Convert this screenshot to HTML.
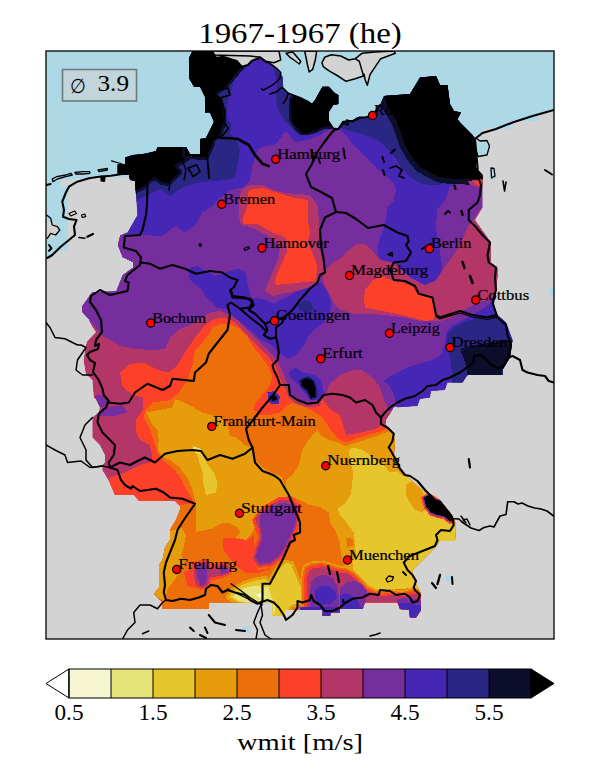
<!DOCTYPE html>
<html><head><meta charset="utf-8"><title>wmit</title>
<style>
html,body{margin:0;padding:0;background:#fff;}
body{width:600px;height:780px;overflow:hidden;font-family:"Liberation Serif",serif;}
svg{display:block;}
text{font-family:"Liberation Serif",serif;fill:#000;}
</style></head><body>
<svg width="600" height="780" viewBox="0 0 600 780">
<defs>
<clipPath id="ax"><rect x="46" y="51" width="508" height="588"/></clipPath>
<clipPath id="mask"><polygon points="117.5,174 117.5,164.5 125,164.5 125,157.5 132.5,155 145,153.7 156,151 157.5,147 186,147 190,154 200,154 200,139 206,138 214,121.7 210,112.5 205,112.5 205,96.7 200,86.7 194,86.7 189,78 189,58 192.5,51 212.5,51 216,58 223,56.7 236.7,61 241.7,66.7 248,65 251.7,61 260,57.5 265,61.7 270,63.3 278.3,70 282.5,76.7 283.3,88.3 288.3,93.3 295,95.8 308.3,101.7 311.7,104 315,100 322.5,86.7 329,86.7 334,92.5 338.3,95 338.3,104 333.3,105 329,111.7 329,121.7 333.3,128.3 338.3,129 343.3,121.7 353.3,120.8 356.7,118.3 360,117.5 365,117.5 375,115 380,105 384,96 410,94 420,77.5 436,76 440,85 447.5,85 450,104 454,111 461,112.5 457.5,119 460,122.5 472.5,135 476,140 476,167.5 482.5,175 482.5,195 482.5,207.5 475,220 491,242.5 491,262.5 497.5,267.5 497.5,277.5 494,305 497.5,315 506,322.5 512.5,340 510,357.5 502.5,370 502.5,375 467.5,375 462.5,382.5 447.5,382.5 445,390 431,391 430,397.5 420,399 417.5,406 394,407.5 386,420 386,425 390,430 395,440 394,455 399,462.5 400,470 405,475 425,492.5 432.5,495 440,500 452,515 456,524 455,541 440,541 435,547.5 412.5,570 412.5,577.5 421,594 421,610 416,617.5 410,617.5 409,610 400,609 397.5,602.5 365,602.5 362.5,609 340,609 340,612.5 331,612.5 330,616 322.5,616 322.5,610 285,610 285,616 272.5,616 272.5,602.5 209,602.5 209,609 162.5,609 162.5,602.5 154,594 159,587.5 159,565 162.5,560 165,547.5 170,540 170,530 176,520 180,510 180,506 175,501 139,501 134,495 115,495 109,481 102.5,470 102.5,465 105,462.5 105,455 100,445 92.5,437.5 92.5,417.5 99,412.5 100,407.5 96,399 94,397.5 92.5,380 86,374 83.75,360 86,345 87.5,341 87,342 96,332 92,326 89,320 82,312 82,306 89,296 92,292 116,291 122.5,275 132.5,267.5 132.5,262.5 122.5,257.5 117.5,245 120,235 127.5,232.5 137.5,215 136,195 135,181 130,180 129,174"/></clipPath>
</defs>
<rect x="0" y="0" width="600" height="780" fill="#ffffff"/>

<g clip-path="url(#ax)">
<rect x="46" y="51" width="508" height="588" fill="#d3d3d3"/>
<polygon points="46,51 215,51 215,160 135,160 135,177 122.3,177 110.7,177.5 99,178 89,178.5 75,178.5 75,180 68,180 68,251 53,251 53,258 46,258" fill="#add8e6"/>
<polygon points="215,51 554,51 554,110 538.75,116 538.75,121 512.5,121 512.5,128.75 482.5,128.75 482.5,137.5 475,137.5 475,150 390,150 380,122 340,125 340,131 280,131 280,60 260,55 215,55" fill="#add8e6"/>
<polygon points="548.75,287.5 554,287.5 554,295 548.75,295" fill="#add8e6"/>
<polygon points="476,142.5 487.5,141 490,145 487.5,155 477.5,156 476,150" fill="#add8e6"/>
<polygon points="490,168.75 495,168.75 496,178.75 491,180" fill="#add8e6"/>
<polygon points="242.5,626 250,626 250,632.5 242.5,632.5" fill="#add8e6"/>
<polygon points="446,575 451,575 451,581 446,581" fill="#add8e6"/>
<polygon points="60.7,180 68,180 68,186.7 60.7,186.7" fill="#d3d3d3"/>
<polygon points="46,222 55,222 58,228 58,232 54,237 46,240" fill="#d3d3d3"/>
<polygon points="212,51 279,51 280.7,60 274,62.7 266,61.3 260.7,57.3 250,56 212,55" fill="#d3d3d3" stroke="#000" stroke-width="1.5" stroke-linejoin="round"/>
<polygon points="286,53.3 292.7,52 300.7,61.3 299.3,64 294,60 290,57.3" fill="#d3d3d3" stroke="#000" stroke-width="1.5" stroke-linejoin="round"/>
<polygon points="304.7,51 316.7,51 315.3,60 312.7,69.3 309.2,72 307.3,64" fill="#d3d3d3" stroke="#000" stroke-width="1.5" stroke-linejoin="round"/>
<polygon points="322,62.7 324.7,57.3 331.3,54.7 340.7,56 348.7,60 355.3,58.7 362,53.3 375.3,52 394,51 395.3,53.3 380.7,58.7 375.3,66.7 370,74.7 367.3,85.3 365.2,80 364,74 363.3,76 355.3,78.7 346,81.3 338,76 328.7,70.7 323.3,66.7" fill="#d3d3d3" stroke="#000" stroke-width="1.5" stroke-linejoin="round"/>
<polygon points="296,100 308,102.5 305,104 296.7,103" fill="#d3d3d3" stroke="#000" stroke-width="1.5" stroke-linejoin="round"/>
<g clip-path="url(#mask)" shape-rendering="crispEdges">
<polygon points="117.5,174 117.5,164.5 125,164.5 125,157.5 132.5,155 145,153.7 156,151 157.5,147 186,147 190,154 200,154 200,139 206,138 214,121.7 210,112.5 205,112.5 205,96.7 200,86.7 194,86.7 189,78 189,58 192.5,51 212.5,51 216,58 223,56.7 236.7,61 241.7,66.7 248,65 251.7,61 260,57.5 265,61.7 270,63.3 278.3,70 282.5,76.7 283.3,88.3 288.3,93.3 295,95.8 308.3,101.7 311.7,104 315,100 322.5,86.7 329,86.7 334,92.5 338.3,95 338.3,104 333.3,105 329,111.7 329,121.7 333.3,128.3 338.3,129 343.3,121.7 353.3,120.8 356.7,118.3 360,117.5 365,117.5 375,115 380,105 384,96 410,94 420,77.5 436,76 440,85 447.5,85 450,104 454,111 461,112.5 457.5,119 460,122.5 472.5,135 476,140 476,167.5 482.5,175 482.5,195 482.5,207.5 475,220 491,242.5 491,262.5 497.5,267.5 497.5,277.5 494,305 497.5,315 506,322.5 512.5,340 510,357.5 502.5,370 502.5,375 467.5,375 462.5,382.5 447.5,382.5 445,390 431,391 430,397.5 420,399 417.5,406 394,407.5 386,420 386,425 390,430 395,440 394,455 399,462.5 400,470 405,475 425,492.5 432.5,495 440,500 452,515 456,524 455,541 440,541 435,547.5 412.5,570 412.5,577.5 421,594 421,610 416,617.5 410,617.5 409,610 400,609 397.5,602.5 365,602.5 362.5,609 340,609 340,612.5 331,612.5 330,616 322.5,616 322.5,610 285,610 285,616 272.5,616 272.5,602.5 209,602.5 209,609 162.5,609 162.5,602.5 154,594 159,587.5 159,565 162.5,560 165,547.5 170,540 170,530 176,520 180,510 180,506 175,501 139,501 134,495 115,495 109,481 102.5,470 102.5,465 105,462.5 105,455 100,445 92.5,437.5 92.5,417.5 99,412.5 100,407.5 96,399 94,397.5 92.5,380 86,374 83.75,360 86,345 87.5,341 87,342 96,332 92,326 89,320 82,312 82,306 89,296 92,292 116,291 122.5,275 132.5,267.5 132.5,262.5 122.5,257.5 117.5,245 120,235 127.5,232.5 137.5,215 136,195 135,181 130,180 129,174" fill="#762d9d"/>
<polygon points="100,233 126,233.75 140,235 162.5,236 169,231 176,226 184,232.5 195,226 202.5,212.5 212.5,206 217.5,200 230,190 242.5,187.5 250,180 252.5,165 257.5,150 265,146 275,145 286,131 295,142.5 307.5,140 320,135 327,131 333,128 340,130 347,136 353,145 363,155 373,165 385,175 394,183 396,190 394,200 387.5,207 385,225 379,240 377.5,252.5 381,260 394,262.5 410,277.5 425,285 436,280 442.5,270 440,252.5 436,227.5 437,210 446,199 450,186 460,183 490,182 520,182 520,40 100,40" fill="#4626b4"/>
<polygon points="250,63 241.7,71.7 234,81 231.7,88 231,95 228,100 226.7,111.7 228,120 231.7,125 230,133 236.7,140 240,150 237.5,165 235,177.5 227.5,180 210,181 192.5,183.75 182.5,187.5 170,196 160,188.75 147.5,195 137.5,200 135,192.5 100,192 100,40 250,40" fill="#292684"/>
<polygon points="262,50 262,58 268,64 274,70 276.5,80 276.5,90 276,98 277,105 279,112 284,120 291,128 298,134 308,134.5 318,132 326,129 333,128 340,128 350,131 363,134 377,140 387,148 397,160 403,170 412,178 420,183 430,185.5 438,185 445,183 480,183 500,183 500,50" fill="#292684"/>
<polygon points="383.75,381 391,376 407.5,367.5 422.5,362.5 432.5,360 441,355 445,343.75 446,332.5 452.5,325 462.5,320 472.5,315 482.5,308.75 490,303.75 493.75,300 520,300 520,420 398,420 397,406 393.5,394 389,385" fill="#4626b4"/>
<polygon points="452.5,376 451,365 448.75,352.5 447,342.5 447.5,333.75 453.75,327.5 465,322 477.5,317.5 488.75,315 496,313.75 520,313 520,390 451,390" fill="#292684"/>
<polygon points="297.5,302.5 310,300 313.75,307.5 307.5,312.5 300,311" fill="#292684"/>
<polygon points="460,348.75 470,346 482.5,343.75 500,341 508.75,340 520,340 520,390 468.75,390 466,365 462.5,355" fill="#0d0d2c"/>
<polygon points="117.5,165 126,157.5 142.5,153.75 156,151 159,147 186,147 190,156 182.5,161 174,165 179,172 168,183 162,182 155,177 148,181 142,187 135,191 133,180 118,174" fill="#0d0d2c" stroke="#0d0d2c" stroke-width="6" stroke-linejoin="round"/>
<polygon points="117.5,165 126,157.5 142.5,153.75 156,151 159,147 186,147 190,156 182.5,161 174,165 179,172 168,183 162,182 155,177 148,181 142,187 135,191 133,180 118,174" fill="#000000"/>
<polygon points="185,45 243,45 241.7,66.7 236.7,72.5 228,83 225,86.7 216.7,91.7 215,95 220,100 223,111.7 223,123 220,133 213,140 211.7,145 206,157.5 185,156" fill="#0d0d2c" stroke="#0d0d2c" stroke-width="5.5" stroke-linejoin="round"/>
<polygon points="185,45 243,45 241.7,66.7 236.7,72.5 228,83 225,86.7 216.7,91.7 215,95 220,100 223,111.7 223,123 220,133 213,140 211.7,145 206,157.5 185,156" fill="#000000"/>
<polygon points="295,95.8 308,101.7 311.7,104 315,100 322.5,80 345,80 345,104 333.3,105 329,111.7 329,121.7 331.7,126 323.3,126.7 316.7,130 308.3,132.5 301.7,132.5 296,126.7 291.7,120 291,111.7 291,100" fill="#0d0d2c" stroke="#0d0d2c" stroke-width="5" stroke-linejoin="round"/>
<polygon points="295,95.8 308,101.7 311.7,104 315,100 322.5,80 345,80 345,104 333.3,105 329,111.7 329,121.7 331.7,126 323.3,126.7 316.7,130 308.3,132.5 301.7,132.5 296,126.7 291.7,120 291,111.7 291,100" fill="#000000"/>
<polygon points="384,96 388,107 396,120 400.5,132 405,145 411.7,156.7 420,166.7 430,172.5 439,177 450,178.5 465,179 479,179 500,179 500,60 384,60" fill="#0d0d2c" stroke="#0d0d2c" stroke-width="11" stroke-linejoin="round"/>
<polygon points="384,96 388,107 396,120 400.5,132 405,145 411.7,156.7 420,166.7 430,172.5 439,177 450,178.5 465,179 479,179 500,179 500,60 384,60" fill="#000000"/>
<polygon points="468,181 483,179 483,188 476,186.5 470,184.5" fill="#b43668"/>
<polygon points="474,181.5 483,180 483,184.5 477,184.5" fill="#fd4028"/>
<polygon points="60,318 88,320 93.75,325 100,334 115,342.5 120,346 135,349 152.5,350 165,349 170,337.5 180,329 192.5,324 202.5,317.5 210,312.5 220,311 230,315 237.5,320 250,332.5 260,342.5 270,352.5 275,357.5 281,367.5 285,377.5 288.75,386 291,395 298.75,400 307.5,402.5 317.5,401 323,395 326,393.75 330,383.75 340,375 352.5,370 362.5,370 372.5,377.5 380,387.5 384,400 388.75,410 400,415 600,415 600,640 60,640" fill="#b43668"/>
<polygon points="325,270 333.75,262 340,258.75 347.5,251 357.5,243.75 365,243.75 372.5,251 380,260 393.75,263 410,277.5 425,285.5 436,280.5 442.5,270 450,260 460,245 467.5,227.5 475,217.5 480,208.75 483.75,207.5 510,207 510,297 492,298 475,303.75 467.5,307.5 457.5,315 445,320 435,321.5 420,321 402.5,317 385,315 370,314 355,314 341,310 333.75,303 328.75,292.5 322.5,280" fill="#b43668"/>
<polygon points="238.75,205 240,195 242.5,189 250,185 262.5,185 272.5,190 285,193 310,195 317.5,205 318.75,220 320,232.5 317.5,245 323.75,260 326,270 320,277.5 317.5,287.5 300,290 272.5,296 265,291 270,277.5 278.75,257.5 280,245 267.5,236 252.5,227.5 241,225 238.75,215" fill="#b43668"/>
<polygon points="247.5,206 247.5,195 249,190 262,188 275,192 290,197 307.5,200 307.5,217.5 310,232.5 307.5,242.5 316,261 317.5,270 315,281 276,285 275,280 278.75,270 287.5,251 286,237.5 272.5,232.5 257.5,223.75 243.75,223.75 242.5,220" fill="#fd4028"/>
<polygon points="365,290 372.5,281 381,276 394,281 402.5,282.5 412.5,286 417.5,294 430,295 434,300 436,315 432.5,320 425,321 402.5,315 382.5,311 365,307.5 364,300" fill="#fd4028"/>
<polygon points="60,478 108.75,481 110,477.5 117.5,475 125,472.5 140,465 150,462.5 152.5,457.5 150,445 140,440 136,432.5 136,420 142.5,410 142.5,397.5 132.5,395 122.5,386 120,372.5 130,364 142.5,362.5 157.5,370 169,372.5 177.5,365 185,352.5 195,337.5 205,325 214,319 225,317.5 235,322.5 245,332.5 255,344 264,352.5 270,359 275,365 278.75,375 282.5,384.5 286,390 288.75,397.5 296,403.75 307.5,407.5 320,406 322.5,398 326,405 332.5,411 340,415 343,425 346,435 355,433.5 366,431.5 376,428.5 381,425.5 386,423 400,423 600,425 600,640 60,640" fill="#fd4028"/>
<polygon points="188,270 190,267.5 197.5,266 215,276 230,271 238.75,268.75 246,272.5 247.5,282.5 251,297.5 262.5,298.75 273.75,303.75 282.5,298.75 290,296 297.5,291 307.5,287.5 315,283.75 321,282.5 327.5,292.5 331,302.5 330,314 323.75,322.5 316,328.75 307.5,337.5 303.75,346 295,356 287.5,358.75 281,354 275,349 270,344 260,339 250,330 235,317.5 227.5,310 217.5,307.5 206,297.5 202.5,290 190,280" fill="#4626b4"/>
<polygon points="297.5,305 305,300 311,302.5 313.75,308.75 307.5,312.5 300,311" fill="#292684"/>
<polygon points="150,430 143.75,417.5 145,411 152.5,402.5 170,400 179,392.5 187.5,380 192.5,365 195,350 202.5,342.5 209,334 212.5,327.5 220,324 230,324 237.5,327.5 247.5,337.5 253.75,347.5 260,355 267.5,365 272,375 271,382.5 267.5,388.75 261,396 255,403.75 253.75,410 260,415 270,415 280,412.5 287.5,405.5 292.5,402.5 302.5,406 312.5,410.5 322.5,417.5 328.75,427.5 337.5,438 345,442.5 355,439 367.5,435 380,431.5 388.75,427.5 400,427.5 600,428 600,640 140,640 140,520 194.5,503 191,497.5 186,488.75 181,478.75 173.75,468.75 163.75,461 157.5,452.5 153.75,440" fill="#ec6f0a"/>
<polygon points="146,412.5 172.5,407.5 175,399 187.5,404 202.5,412.5 220,417.5 227.5,425 230,436 236,437.5 245,445 252.5,448 253.75,457.5 262.5,467.5 272.5,473 281,476 283.75,482.5 286,487 286,480 292.5,475 298.75,465 302.5,450 307.5,441 313.75,433.75 317.5,430 321,436 328.75,440 337.5,442 345,446 355,443 367.5,439 380,435 389,431 400,431 600,431 600,640 196,640 196,507.5 195,500 192.5,490 188.75,480 180,467.5 170,460 163.75,457.5 157.5,450 158.75,440 157.5,430 152.5,425" fill="#e69d0c"/>
<polygon points="196,507.5 192.5,517.5 187.5,527.5 190,533.75 200,531 212.5,528.75 220,523.75 227.5,522.5 237.5,527.5 240,532.5 236,537.5 245,540 250,536 255,527.5 257.5,517.5 262.5,512.5 265,506 277.5,499 290,496 300,500 310,505 320,507 328.75,512.5 330,522.5 335,530 340,542.5 341,555 343.75,562.5 348,570 356,577 366,583 377.5,588 412,586 430,600 430,640 140,640 140,515 180,505 194.5,503" fill="#ec6f0a"/>
<polygon points="171,531 181,527.5 186,535 183.75,547.5 181,555 183.75,562.5 180,572.5 172.5,582.5 167.5,590 163.75,600 150,595 150,560 160,540" fill="#e69d0c"/>
<polygon points="348.75,451 352.5,447.5 362.5,450 373.75,457.5 383.75,465 390,472.5 397.5,471 402,476 420,470 600,470 600,590 412,588 377.5,591 370,587.5 360,580 353.75,572.5 352.5,562.5 356,555 355,545 353.75,532.5 347.5,523.75 340,515 337.5,508.75 345,503.75 351,493.75 352.5,480 352.5,470 350,460" fill="#e6c62c"/>
<polygon points="195,450 201,452.5 206,462.5 213.75,472.5 217.5,482.5 216,492.5 206,495 203.75,485 202.5,472.5 198.75,460" fill="#e6c62c"/>
<polygon points="229,597 233,591 243,584.5 255,580.5 265,579 270,582 276,572 285,563 291,563.75 295.5,575 301.5,588.5 303.75,597.5 297,603.5 291,605 286.5,612 283.5,618 272,618 260,610 240,603" fill="#e69d0c" stroke="#e69d0c" stroke-width="6" stroke-linejoin="round"/>
<polygon points="229,597 233,591 243,584.5 255,580.5 265,579 270,582 276,572 285,563 291,563.75 295.5,575 301.5,588.5 303.75,597.5 297,603.5 291,605 286.5,612 283.5,618 272,618 260,610 240,603" fill="#e6c62c"/>
<polygon points="192.5,446 201,448.75 200,453.75 195,452.5" fill="#e6e379"/>
<polygon points="232.5,596.5 243,588.5 255,585.5 268.5,587 271.5,597.5 276,605 274.5,612.5 272,618 266,612 259.5,608 253.5,605 240,601" fill="#e6e379"/>
<polygon points="256,594 262,593 265,597 259,598" fill="#f6f6d3"/>
<polygon points="406,485 412.5,481 420,487.5 423.75,495 422.5,500 426,507.5 422.5,512.5 415,510 410,502.5 406,495" fill="#e69d0c"/>
<polygon points="346,537.5 352.5,538.75 353.75,545 347.5,547.5" fill="#ec6f0a"/>
<polygon points="222.5,537.5 238.75,538.75 247.5,540 254,535 254,560 257.5,570 272.5,567.5 260,572.5 245,572.5 235,565 227.5,555 222.5,547.5" fill="#fd4028"/>
<polygon points="252,520 262,507 278,497.5 292,496 301,506 299,526 291,545 283,558 272,566.5 258,568 251,560 254,547 258,537 255,528" fill="#fd4028"/>
<polygon points="255,519 264,509.5 279,500 291,499.5 299,507.5 297,525 289.5,543.5 281.5,556.5 271,564.5 258.5,566 253,558.5 256.5,547.5 260.5,537.5 258,526" fill="#b43668"/>
<polygon points="260,515 270,507.5 280,503 290,503.75 297.5,508.75 295,525 287.5,542.5 280,555 270,562.5 260,563.75 255,557.5 258.75,547.5 262.5,537.5 260,525" fill="#762d9d"/>
<polygon points="183.75,572.5 190,570 193,562 207,558.5 212,566 219,563 227,561.5 231,567 231.5,574 223,578 212,580 210,586 202,590 195,588 187.5,586" fill="#fd4028"/>
<polygon points="194,565 206,560.5 210,568 219.5,565.5 226.5,563.5 229.5,568 229,573.5 221,576 210,577 208,585 201.5,588 196,585 194,577.5" fill="#b43668"/>
<polygon points="196,566 206,562.5 207.5,572.5 206,583.75 201,586 197.5,577.5" fill="#762d9d"/>
<polygon points="220,567.5 226,565 227.5,572.5 221,573.75" fill="#762d9d"/>
<polygon points="304,577 306,568 312,565 322,564 330,566 338,569 346,570 353,574 359,580 366,588 374,592 380,594 392,592.5 402,594 412.5,591 425,593 425,620 304,620" fill="#e69d0c" stroke="#e69d0c" stroke-width="7" stroke-linejoin="round"/>
<polygon points="304,577 306,568 312,565 322,564 330,566 338,569 346,570 353,574 359,580 366,588 374,592 380,594 392,592.5 402,594 412.5,591 425,593 425,620 304,620" fill="#ec6f0a" stroke="#ec6f0a" stroke-width="3.5" stroke-linejoin="round"/>
<polygon points="304,577 306,568 312,565 322,564 330,566 338,569 346,570 353,574 359,580 366,588 374,592 380,594 392,592.5 402,594 412.5,591 425,593 425,620 304,620" fill="#fd4028"/>
<polygon points="307,578 309,571 314,568 324,567 332,569.5 340,573 348,573.5 354,578 360,584 366,591 374,594.5 380,596.5 392,595 402,596.5 412.5,593.5 425,596 425,620 307,620" fill="#b43668"/>
<polygon points="310,594 311,583 315,577 324,574.5 333,578 338,587 339,600 337,620 310,620" fill="#762d9d"/>
<polygon points="340,588 345,583 354,581 362,584 367,591 366,602.5 362.5,620 340,620" fill="#762d9d"/>
<polygon points="397,599 410,597.5 420.5,600 425,610 425,620 397,620" fill="#762d9d"/>
<polygon points="315,590 320,586.5 328,586 335,590 337,598 330,604 320,605 315,600" fill="#4626b4"/>
<polygon points="340,595 347.5,593.75 355,597.5 360,605 355,620 340,620" fill="#4626b4"/>
<polygon points="300,607 345,607 366,607 366,620 300,620" fill="#4626b4"/>
<polygon points="399,603.5 408.75,602.5 417.5,605 425,608.75 425,620 399,620" fill="#4626b4"/>
<polygon points="421,497 428.75,492.5 436,497.5 443,498.5 449.5,505.5 455,508.5 457,522.5 450,524 443,519 437,518 430,515.5 424,508" fill="#fd4028"/>
<polygon points="422.5,497.3 428.75,494 435.5,499 442.8,499.8 448.5,506.5 453.5,509.3 455,521.3 450,522.5 443.5,517.5 437.3,516.5 430.5,514 425,507" fill="#762d9d"/>
<polygon points="423.75,497.5 428.75,495 435,500 442.5,501 447.5,507.5 452.5,510 453.75,520 450,521 443.75,516 437.5,515 431,512.5 426,506" fill="#000000"/>
<polygon points="288.75,372.5 295,367.5 302.5,372.5 315,375 321,381 323.75,392.5 318.75,400 310,400 302.5,390 295,381 290,377.5" fill="#4626b4"/>
<polygon points="301.5,381 307.5,378.5 312.5,381.5 315,388.75 315,396.5 311.5,397.5 308,390 302.5,385.5" fill="#292684" stroke="#292684" stroke-width="5" stroke-linejoin="round"/>
<polygon points="301.5,381 307.5,378.5 312.5,381.5 315,388.75 315,396.5 311.5,397.5 308,390 302.5,385.5" fill="#0d0d2c" stroke="#0d0d2c" stroke-width="2.5" stroke-linejoin="round"/>
<polygon points="301.5,381 307.5,378.5 312.5,381.5 315,388.75 315,396.5 311.5,397.5 308,390 302.5,385.5" fill="#000000"/>
<polygon points="267.5,392.5 273.75,391 280,396 278.75,403.75 271,403.75 267.5,398.75" fill="#4626b4"/>
<polygon points="271,397 275.5,396.3 276.5,399.5 273,400.3" fill="#292684" stroke="#292684" stroke-width="3.5" stroke-linejoin="round"/>
<polygon points="271,397 275.5,396.3 276.5,399.5 273,400.3" fill="#0d0d2c" stroke="#0d0d2c" stroke-width="1.5" stroke-linejoin="round"/>
<polygon points="271,397 275.5,396.3 276.5,399.5 273,400.3" fill="#000000"/>
<polygon points="95,395 106,396 108.75,405 100,407.5 96,401" fill="#762d9d"/>
<polygon points="102.5,407.5 122.5,405 127.5,412.5 115,416 98.75,416" fill="#762d9d"/>
</g>
<g fill="none" stroke="#000" stroke-width="2.1" stroke-linejoin="round" stroke-linecap="round">
<polyline points="147.5,184 147,205 146,215 142.5,230 140,235 125,236 123.75,247.5 136,251 141,257.5 140,265 127.5,275 125,281 128.75,282.5 127.5,291 110,295 100,290 91,296 90,302 96,310 101,320 102,332 96,340 95,346 99,344 98,349 90,352 87,355 90,360 95,363 93,372 98.75,380 102.5,388.75 103.75,395 108.75,401 106,407.5 98.75,413.75 97.5,422.5 102.5,432.5 111,441 115,445 113.75,455 108.75,462.5 110,467.5 117.5,470 121,480 125,485 131,488.75 132.5,486 140,491 147.5,490 156,488.75 163.75,492.5 170,497.5 182.5,498.75 195,503.75 190,511 183.75,520 177.5,530 175,540 171,550 166,562.5 163.75,572.5 165,585 163.75,592.5 166,600 172.5,601 181,598.75 190,600 198.75,597.5 205,595 206,588.75 211,585 217.5,586 222.5,592.5 227.5,590 235,592.5 245,595 250,600 257.5,603.75 260,602.5 267.5,600 273.75,602.5 278.75,607.5 283.75,615 286,620 292.5,615 297.5,607.5 297.5,601 302.5,602.5 310,600 311,595 313.75,601 320,605 325,611 332.5,611 340,607.5 346,602.5 352.5,598.75 362.5,597.5 370,593.75 378.75,595 380,590 390,591 396,595 405,593.75 410,597.5 412.5,602.5 417.5,601 420,595 415,590 413.75,587.5 416,581 412.5,575 407.5,570 405,565 403.75,562.5 410,556 422.5,551 435,546 437.5,540 436,535 441,530 450,531 453.75,525 452.5,518.75 447.5,512.5 440,505 432.5,497.5 425,490 417.5,481 410,476 405,475 400,468.75 396,460 391,451 388.75,447.5 392.5,441 393.75,433.75 388,428 381,424 381,417.5 385,412.5 390,407.5 397.5,402.5 405,398.75 415,396 422.5,391 427.5,386 436,385 442.5,380 450,377.5 460,372.5 473.75,362.5 473.75,356 480,355 486,358.75 490,363.75 498.75,368.75 503.75,366 506,361 508.75,357.5 511,345 507.5,335 506,325 497.5,317.5 495,310 492.5,302.5 496,290 495,277.5 496,267.5 488.75,262.5 487.5,255 490,242.5 482.5,235 475,226 468.75,220 468.75,210 477.5,202.5 480,195 481,185 477.5,175 477.5,167.5 476,150 475,138.75"/>
<polyline points="508.75,357.5 512.5,356 520,360 522.5,370 527.5,372.5 537.5,375 545,376 548.75,381 554,382.5"/>
<polyline points="453.75,518.75 459,519 462,522 465,524 471,528 479,530.5 484,527.5 490,526 494,527 496.7,522 500,516 506,514.5 507.7,501.7 514,501.7 518,504 522,503 528,506 534.7,508 541,509 547,511 553.7,516" stroke-width="1.6"/>
<polyline points="461,516 466,523 463,520 467,519 470,525" stroke-width="1.4"/>
<polyline points="231,583.75 240,590 250,597.5 260,603.75" stroke-width="1.2"/>
<polyline points="227.5,588.75 240,595 252.5,601 262.5,605" stroke-width="1.2"/>
<polyline points="212.5,51.7 216,58 223,56.7 236.7,61 241.7,66.7 248,65 251.7,61 260,57.5"/>
<polyline points="141,262.5 150,263.75 160,268.75 172.5,265 185,268.75 196,273.75 210,271 222.5,272.5 230,277.5 237.5,280 233.75,287.5 230,290 232.5,297.5 250,298.75 253.75,305 248.75,310 255,313.75 265,323.75 273.75,320 283.75,317.5 292.5,310 300,300 310,288.75 317.5,282.5 320,275 325,272.5 323.75,260 321,245 320,230 325,217.5 336,212 332,198 321,192 311,187 306,174 312,164 316,154 323,144 329,136 334,130"/>
<polyline points="336,212 346,213 356,219 368,228 383.75,225 397.5,232.5 407.5,236 408.75,241 406,245 411,252.5 406,261 393.75,262.5 390,270 393.75,280 405,281 415,286 418.75,293.75 432.5,297.5 436,315 440,317.5 460,311 472.5,315 487.5,317.5 496,315"/>
<polyline points="436,316.5 440,319 460,313 472.5,317 487.5,319.5 497,317" stroke-width="1.2"/>
<polyline points="265,323.75 267.5,330 263.75,335 270,338.75 276,337.5 277.5,343 278.75,352.5 277.5,360 272.5,365 273.75,370 277.5,377.5 280,385 288.75,385 290,395 297.5,400 307.5,403.75 317.5,402.5 323.75,395 332.5,393.75 342.5,395 350,397.5 356,402.5 365,400 372.5,405 376,412.5 381,417.5"/>
<polyline points="276,337.5 276,327.5 282.5,322.5 283.75,317.5"/>
<polyline points="231,290 232.5,296 245,297.5 252.5,301 250,307.5 240,308.75 231,302.5 227.5,305 230,315 227.5,330 217.5,342.5 208.75,353.75 206,362.5 195,372.5 193.75,381 172.5,378.75 170,386 162.5,390 147.5,383.75 135,392.5 128.75,402.5 120,403.75 107.5,402.5"/>
<polyline points="240,308.75 250,317.5 260,325 265,330"/>
<polyline points="280,385 272.5,396 262.5,407.5 255,417.5 246,428.75 248.75,440 252.5,447.5 245,453.75 232.5,458.75 220,455 207.5,460 201,451 192.5,450 177.5,451 165,453.75 155,462.5 145,457.5 137.5,461 130,465 120,462.5 110,467.5"/>
<polyline points="252.5,447.5 255,462.5 262.5,471 270,473.75 275,476 280,480 288.75,495 295,510 300,522.5 300,532.5 293.75,535 295,540 290,542.5 287.5,548.75 282.5,560 276,572.5 270,583.75 262.5,583.75 262.5,600 261,605"/>
<polyline points="215,137.5 237.5,138.75 248.75,145 255,155 262.5,163.75 268.75,166" stroke-width="2.7"/>
<polyline points="554,110 532.5,116 512.5,122.5 496,129 482.5,133 476,138"/>
<polyline points="476,138 480,141 487,140.5 489.5,146 487,155 478,156.5 476,150" stroke-width="1.3"/>
<polyline points="334,130 338.3,129 343.3,121.7 353.3,120.8 360,117.5 365,117.5 372.5,115.5 380,105"/>
<polyline points="129,174 122.3,174 110.7,175.8 99,176.7 89,178.3 77.3,181.7 69,186.7 65.7,193 62.3,201.7 64,210 63,216.7 69,219 76.5,220 74,226.7 75,235 69,240 60.7,246.7 52.3,255 47.3,258"/>
<polyline points="52.3,179 56.5,176.7 65.7,175 70.7,173.3 72.3,175 65.7,176.7 57.3,179 53,181.7 52.3,179" stroke-width="1.3"/>
<polyline points="74.8,172.5 82.3,171.7 89.8,171.7 89.8,173.3 82.3,174 75.7,174 74.8,172.5" stroke-width="1.3"/>
<polyline points="98,170 107.3,168.3 107.3,170 99,171.7 98,170" stroke-width="1.3"/>
<polyline points="101.5,176.5 104.5,177 104,181 101.5,180.5 101.5,176.5 103,179" stroke-width="2.2"/>
<polyline points="111.5,160.8 122.3,164" stroke-width="1.2"/>
<polyline points="46.5,185 50.7,184" stroke-width="1.8"/>
<polyline points="69,213.5 74.8,211 76.5,213.5 70.7,216 69,213.5" stroke-width="1.2"/>
<polyline points="81.5,215 84.8,214 85.7,216.7 82.3,217.5 81.5,215" stroke-width="1.2"/>
<polyline points="79,237.5 84.8,238.3" stroke-width="1.6"/>
<polyline points="87.3,236.7 93,234" stroke-width="2.2"/>
<polyline points="46.5,215 50.7,218.3 52.3,225 57.3,226.7 59.8,230 55.7,235 50.7,233.3 47.3,238.3" stroke-width="1.3"/>
<polyline points="49,245 51.5,248.3 49,250.8" stroke-width="2"/>
<polyline points="260,57.5 265,61.7 270,63.3 276.7,68.3 280.8,72.5 280,78.3 275,83.3 270,86.7 263.3,90 261.7,89" stroke-width="1.5"/>
<polyline points="270,94 276.7,91.7 281.7,87.5 283.3,88.3 288.3,93.3 286.7,98.3 283.3,103.3" stroke-width="1.5"/>
<polyline points="288.3,93.3 295,95.8 301.7,98.3 308.3,101.7 311.7,104" stroke-width="1.5"/>
<polyline points="329,121.7 333.3,128.3 338.3,129 343.3,123.3 348.3,125 346.7,120 352.5,121.7 356.7,118.3 360,117.5" stroke-width="1.5"/>
<polyline points="46,322.5 50,327.5 55,337.5 65,338.75 72.5,342.5 77.5,345 81,345 86,347.5 77.5,360 76,370 82.5,375 92.5,375" stroke-width="1.5"/>
<polyline points="92.5,417.5 85,425 80,437.5 86,450 86,460 92.5,467.5 102.5,466" stroke-width="1.5"/>
<polyline points="46,445 55,450 65,455 67.5,462.5 81,461 90,467.5 102.5,466 110,467.5" stroke-width="1.5"/>
<polyline points="122.5,639 127.5,630 135,622.5 133.75,612.5 140,605 150,605 157.5,608.75 162.5,602.5 166,600" stroke-width="1.5"/>
<polyline points="261,605 257.5,612.5 253.75,622.5 257.5,630 256,639" stroke-width="1.5"/>
<polyline points="261,605 262.5,615 260,622.5 265,635 271,639" stroke-width="1.5"/>
<polyline points="208.75,615 215,622.5 225,625" stroke-width="2"/>
<polyline points="236,630 245,631" stroke-width="2"/>
<polyline points="190,627.5 193.75,631" stroke-width="2"/>
<polyline points="200,635 206,638" stroke-width="2"/>
<polyline points="205,627.5 207.5,633" stroke-width="2"/>
<polyline points="142.5,633.75 148.75,631" stroke-width="1.5"/>
<polyline points="468.75,459 470,467.5" stroke-width="2.2"/>
<polyline points="386,579 389,576 393.5,577 392,580.5 387.5,582 386,579" stroke-width="1.3"/>
<polyline points="403,572 406,575" stroke-width="2"/>
<polyline points="432,583 436,588" stroke-width="2.2"/>
<polyline points="440,575 437.5,584" stroke-width="2.4"/>
<polyline points="452,577 452.5,584" stroke-width="2"/>
<polyline points="370,636 376,634.5 380,633" stroke-width="1.6"/>
<polyline points="216.7,90 228,88 230,95 220,98 215,95 216.7,90" stroke-width="1.6"/>
<polyline points="220,98 225,111.7 223.3,121.7 228.3,128.3 223.3,135 216.7,138.3 206,141" stroke-width="1.6"/>
<polyline points="188,168 196.7,165 200,171.7 193.3,176.7 188,168" stroke-width="1.6"/>
<polyline points="206.7,152 208,165 209,178" stroke-width="1.8"/>
<polyline points="182,160 186,170 184,180" stroke-width="1.4"/>
<polyline points="166,178 170,184 169,190" stroke-width="1.4"/>
<polyline points="311.7,150 313.3,160" stroke-width="2.2"/>
<polyline points="318.3,158 320,163" stroke-width="2"/>
<polyline points="343.3,148.3 345,158.3 343.5,148.3" stroke-width="1.8"/>
<polyline points="382.5,157 384,162" stroke-width="2"/>
<polyline points="391,153 395,149.5" stroke-width="2"/>
<polyline points="383,170 384.5,175" stroke-width="2"/>
<polyline points="390,168 396,166 402,170 399,176 404,178" stroke-width="1.7"/>
<polyline points="454.5,185.5 455.5,189" stroke-width="2.2"/>
<polyline points="445,214 448,211 450,212.5" stroke-width="2"/>
<polyline points="462.5,262 464.5,268" stroke-width="2.4"/>
<polyline points="470,276 472.5,283" stroke-width="2.6"/>
<polyline points="461.5,211 462.5,215" stroke-width="2.4"/>
<polyline points="388,254.5 392,252.5 392.5,256 388,254.5" stroke-width="1.6"/>
<polyline points="422,249 427,246 431,244" stroke-width="2"/>
<polyline points="244,248.5 248.5,246.5 249.5,248.5 245,250.5 244,248.5" stroke-width="1.2"/>
<polyline points="200,244.5 200.5,245.5" stroke-width="3"/>
<polyline points="545,170 552,174.5" stroke-width="2"/>
<polyline points="503,181 504.5,191 506,182" stroke-width="1.6"/>
<polyline points="491,168 494,168.5 495,176 491.5,178 491,168" stroke-width="1.3"/>
<polyline points="328,566 330,574" stroke-width="2.2"/>
<polyline points="337,572 339,582" stroke-width="2.2"/>
<polyline points="343,600 344,603" stroke-width="2.2"/>
<polyline points="359.3,61.3 362,70.7 363.5,76" stroke-width="1.4"/>
<polyline points="355.3,58.7 359.3,61.3" stroke-width="1.4"/>
</g>
<circle cx="275.75" cy="159.25" r="4.1" fill="#ff0000" stroke="#000" stroke-width="1.2"/>
<circle cx="221.75" cy="204.25" r="4.1" fill="#ff0000" stroke="#000" stroke-width="1.2"/>
<circle cx="262" cy="248" r="4.1" fill="#ff0000" stroke="#000" stroke-width="1.2"/>
<circle cx="429.5" cy="248.75" r="4.1" fill="#ff0000" stroke="#000" stroke-width="1.2"/>
<circle cx="349.5" cy="275.5" r="4.1" fill="#ff0000" stroke="#000" stroke-width="1.2"/>
<circle cx="475.75" cy="300" r="4.1" fill="#ff0000" stroke="#000" stroke-width="1.2"/>
<circle cx="150.75" cy="323" r="4.1" fill="#ff0000" stroke="#000" stroke-width="1.2"/>
<circle cx="274.5" cy="320.75" r="4.1" fill="#ff0000" stroke="#000" stroke-width="1.2"/>
<circle cx="389.5" cy="333.25" r="4.1" fill="#ff0000" stroke="#000" stroke-width="1.2"/>
<circle cx="450" cy="347.5" r="4.1" fill="#ff0000" stroke="#000" stroke-width="1.2"/>
<circle cx="320.75" cy="358.75" r="4.1" fill="#ff0000" stroke="#000" stroke-width="1.2"/>
<circle cx="211.8" cy="426.4" r="4.1" fill="#ff0000" stroke="#000" stroke-width="1.2"/>
<circle cx="325.75" cy="465.75" r="4.1" fill="#ff0000" stroke="#000" stroke-width="1.2"/>
<circle cx="239.5" cy="513.25" r="4.1" fill="#ff0000" stroke="#000" stroke-width="1.2"/>
<circle cx="176.75" cy="569.5" r="4.1" fill="#ff0000" stroke="#000" stroke-width="1.2"/>
<circle cx="347.5" cy="560" r="4.1" fill="#ff0000" stroke="#000" stroke-width="1.2"/>
<circle cx="372.5" cy="115.5" r="4.1" fill="#ff0000" stroke="#000" stroke-width="1.2"/>
<text x="277.25" y="158.85" font-size="13.8" textLength="63.0" lengthAdjust="spacingAndGlyphs" stroke="#000" stroke-width="0.2">Hamburg</text>
<text x="223.25" y="203.85" font-size="13.8" textLength="52.1" lengthAdjust="spacingAndGlyphs" stroke="#000" stroke-width="0.2">Bremen</text>
<text x="263.5" y="247.6" font-size="13.8" textLength="65.3" lengthAdjust="spacingAndGlyphs" stroke="#000" stroke-width="0.2">Hannover</text>
<text x="431.0" y="248.35" font-size="13.8" textLength="40.4" lengthAdjust="spacingAndGlyphs" stroke="#000" stroke-width="0.2">Berlin</text>
<text x="351.0" y="275.1" font-size="13.8" textLength="77.1" lengthAdjust="spacingAndGlyphs" stroke="#000" stroke-width="0.2">Magdeburg</text>
<text x="477.25" y="299.6" font-size="13.8" textLength="51.9" lengthAdjust="spacingAndGlyphs" stroke="#000" stroke-width="0.2">Cottbus</text>
<text x="152.25" y="322.6" font-size="13.8" textLength="54.0" lengthAdjust="spacingAndGlyphs" stroke="#000" stroke-width="0.2">Bochum</text>
<text x="276.0" y="320.35" font-size="13.8" textLength="73.8" lengthAdjust="spacingAndGlyphs" stroke="#000" stroke-width="0.2">Goettingen</text>
<text x="391.0" y="332.85" font-size="13.8" textLength="48.6" lengthAdjust="spacingAndGlyphs" stroke="#000" stroke-width="0.2">Leipzig</text>
<text x="451.5" y="347.1" font-size="13.8" textLength="55.8" lengthAdjust="spacingAndGlyphs" stroke="#000" stroke-width="0.2">Dresden</text>
<text x="322.25" y="358.35" font-size="13.8" textLength="40.5" lengthAdjust="spacingAndGlyphs" stroke="#000" stroke-width="0.2">Erfurt</text>
<text x="213.3" y="426.0" font-size="13.8" textLength="102.5" lengthAdjust="spacingAndGlyphs" stroke="#000" stroke-width="0.2">Frankfurt-Main</text>
<text x="327.25" y="465.35" font-size="13.8" textLength="73.0" lengthAdjust="spacingAndGlyphs" stroke="#000" stroke-width="0.2">Nuernberg</text>
<text x="241.0" y="512.85" font-size="13.8" textLength="60.8" lengthAdjust="spacingAndGlyphs" stroke="#000" stroke-width="0.2">Stuttgart</text>
<text x="178.25" y="569.1" font-size="13.8" textLength="58.7" lengthAdjust="spacingAndGlyphs" stroke="#000" stroke-width="0.2">Freiburg</text>
<text x="349.0" y="559.6" font-size="13.8" textLength="70.0" lengthAdjust="spacingAndGlyphs" stroke="#000" stroke-width="0.2">Muenchen</text>
<text x="374.0" y="115.1" font-size="13.8" textLength="52.8" lengthAdjust="spacingAndGlyphs" stroke="#000" stroke-width="0.2">Rostock</text>
</g>
<rect x="62.5" y="69.5" width="74" height="31.5" fill="#c1d5da" stroke="#6e7b80" stroke-width="1.6"/>
<text x="69.8" y="92.5" font-size="19.5" textLength="15.5" lengthAdjust="spacingAndGlyphs">&#8709;</text>
<text x="97.5" y="91.3" font-size="22.5" textLength="31.5" lengthAdjust="spacingAndGlyphs">3.9</text>
<rect x="46" y="51" width="508" height="588" fill="none" stroke="#000" stroke-width="1.3"/>
<text x="300" y="43" font-size="30.3" text-anchor="middle" textLength="203.5" lengthAdjust="spacingAndGlyphs">1967-1967 (he)</text>
<polygon points="69,669 46,683.5 69,698" fill="#ffffff" stroke="#000" stroke-width="1"/>
<polygon points="531,669 554,683.5 531,698" fill="#000000" stroke="#000" stroke-width="1"/>
<rect x="69" y="669" width="42" height="29" fill="#f6f6d3"/>
<rect x="111" y="669" width="42" height="29" fill="#e6e379"/>
<rect x="153" y="669" width="42" height="29" fill="#e6c62c"/>
<rect x="195" y="669" width="42" height="29" fill="#e69d0c"/>
<rect x="237" y="669" width="42" height="29" fill="#ec6f0a"/>
<rect x="279" y="669" width="42" height="29" fill="#fd4028"/>
<rect x="321" y="669" width="42" height="29" fill="#b43668"/>
<rect x="363" y="669" width="42" height="29" fill="#762d9d"/>
<rect x="405" y="669" width="42" height="29" fill="#4626b4"/>
<rect x="447" y="669" width="42" height="29" fill="#292684"/>
<rect x="489" y="669" width="42" height="29" fill="#0d0d2c"/>
<line x1="69" y1="669" x2="69" y2="698" stroke="#000" stroke-width="1"/>
<line x1="111" y1="669" x2="111" y2="698" stroke="#000" stroke-width="1"/>
<line x1="153" y1="669" x2="153" y2="698" stroke="#000" stroke-width="1"/>
<line x1="195" y1="669" x2="195" y2="698" stroke="#000" stroke-width="1"/>
<line x1="237" y1="669" x2="237" y2="698" stroke="#000" stroke-width="1"/>
<line x1="279" y1="669" x2="279" y2="698" stroke="#000" stroke-width="1"/>
<line x1="321" y1="669" x2="321" y2="698" stroke="#000" stroke-width="1"/>
<line x1="363" y1="669" x2="363" y2="698" stroke="#000" stroke-width="1"/>
<line x1="405" y1="669" x2="405" y2="698" stroke="#000" stroke-width="1"/>
<line x1="447" y1="669" x2="447" y2="698" stroke="#000" stroke-width="1"/>
<line x1="489" y1="669" x2="489" y2="698" stroke="#000" stroke-width="1"/>
<line x1="531" y1="669" x2="531" y2="698" stroke="#000" stroke-width="1"/>
<rect x="69" y="669" width="462" height="29" fill="none" stroke="#000" stroke-width="1"/>
<text x="69" y="720" font-size="22.5" text-anchor="middle" textLength="29" lengthAdjust="spacingAndGlyphs">0.5</text>
<text x="153" y="720" font-size="22.5" text-anchor="middle" textLength="29" lengthAdjust="spacingAndGlyphs">1.5</text>
<text x="237" y="720" font-size="22.5" text-anchor="middle" textLength="29" lengthAdjust="spacingAndGlyphs">2.5</text>
<text x="321" y="720" font-size="22.5" text-anchor="middle" textLength="29" lengthAdjust="spacingAndGlyphs">3.5</text>
<text x="405" y="720" font-size="22.5" text-anchor="middle" textLength="29" lengthAdjust="spacingAndGlyphs">4.5</text>
<text x="489" y="720" font-size="22.5" text-anchor="middle" textLength="29" lengthAdjust="spacingAndGlyphs">5.5</text>
<text x="300" y="750" font-size="24" text-anchor="middle" textLength="126" lengthAdjust="spacingAndGlyphs">wmit [m/s]</text>
</svg></body></html>
